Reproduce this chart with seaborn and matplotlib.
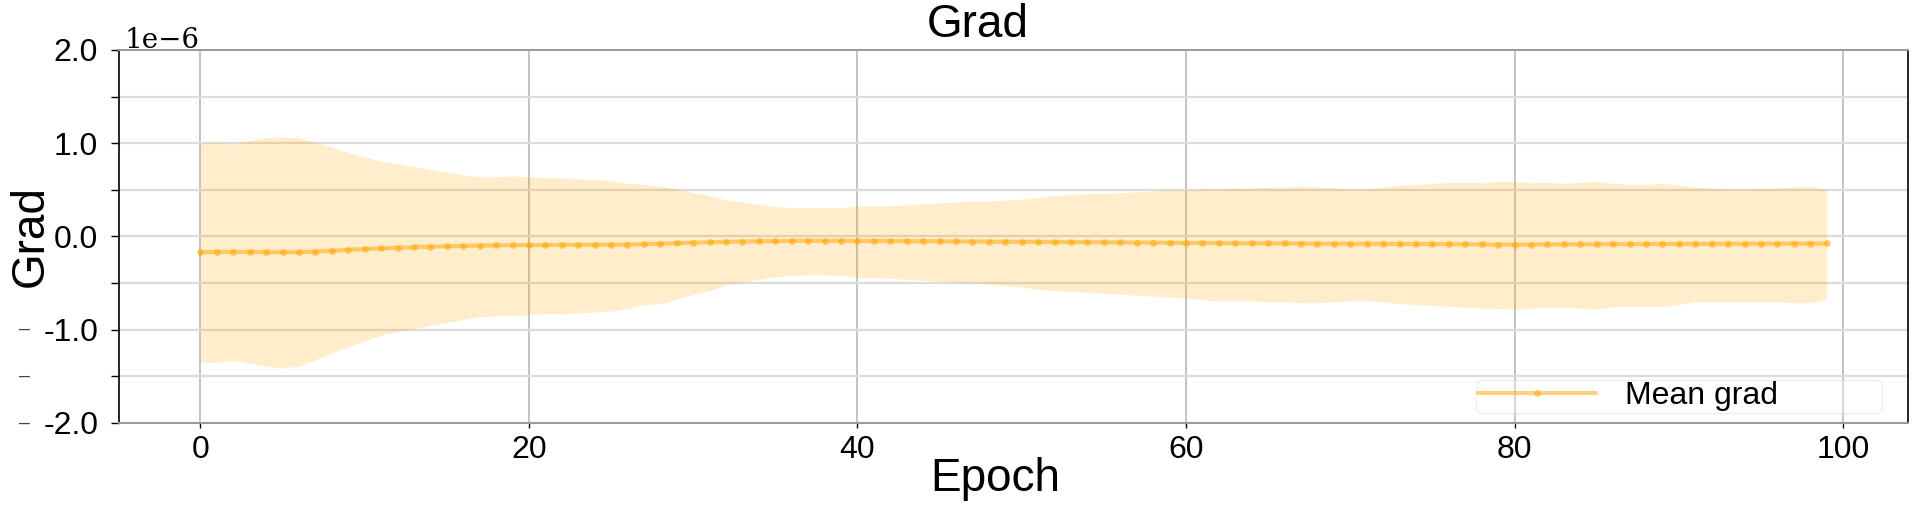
import matplotlib
matplotlib.use("Agg")
import matplotlib.pyplot as plt
import matplotlib.ticker as mticker
import numpy as np
import pandas as pd
import seaborn as sns

# Data (in units of 1e-6)
epochs = list(range(100))

mean_grad = [
    -0.170, -0.166, -0.165, -0.166, -0.168, -0.170, -0.169, -0.162, -0.153, -0.143,
    -0.134, -0.127, -0.121, -0.115, -0.110, -0.105, -0.101, -0.098, -0.095, -0.093,
    -0.092, -0.091, -0.090, -0.090, -0.089, -0.088, -0.086, -0.082, -0.077, -0.072,
    -0.067, -0.062, -0.058, -0.054, -0.051, -0.049, -0.047, -0.046, -0.046, -0.046,
    -0.047, -0.048, -0.049, -0.050, -0.051, -0.052, -0.053, -0.054, -0.055, -0.056,
    -0.057, -0.058, -0.059, -0.060, -0.061, -0.062, -0.064, -0.065, -0.066, -0.068,
    -0.069, -0.070, -0.071, -0.072, -0.073, -0.074, -0.075, -0.076, -0.077, -0.077,
    -0.078, -0.078, -0.079, -0.080, -0.080, -0.081, -0.082, -0.083, -0.085, -0.086,
    -0.087, -0.086, -0.085, -0.085, -0.084, -0.083, -0.082, -0.082, -0.081, -0.080,
    -0.080, -0.079, -0.079, -0.078, -0.078, -0.077, -0.077, -0.076, -0.076, -0.075,
]

upper_band = [
    1.00, 1.01, 0.99, 1.03, 1.06, 1.07, 1.06, 1.01, 0.96, 0.90,
    0.85, 0.81, 0.78, 0.75, 0.72, 0.69, 0.66, 0.64, 0.64, 0.65,
    0.64, 0.63, 0.63, 0.62, 0.61, 0.60, 0.57, 0.56, 0.54, 0.51,
    0.47, 0.44, 0.39, 0.37, 0.34, 0.32, 0.31, 0.31, 0.31, 0.31,
    0.33, 0.33, 0.33, 0.34, 0.35, 0.36, 0.37, 0.38, 0.38, 0.39,
    0.40, 0.42, 0.44, 0.45, 0.46, 0.46, 0.47, 0.48, 0.49, 0.50,
    0.50, 0.51, 0.51, 0.52, 0.52, 0.53, 0.53, 0.54, 0.53, 0.52,
    0.51, 0.51, 0.53, 0.55, 0.56, 0.57, 0.58, 0.58, 0.58, 0.59,
    0.59, 0.58, 0.58, 0.57, 0.58, 0.59, 0.57, 0.56, 0.56, 0.57,
    0.55, 0.53, 0.52, 0.51, 0.51, 0.52, 0.52, 0.53, 0.54, 0.50,
]

lower_band = [
    -1.35, -1.35, -1.33, -1.36, -1.39, -1.41, -1.39, -1.32, -1.25, -1.18,
    -1.12, -1.06, -1.02, -0.99, -0.95, -0.92, -0.89, -0.86, -0.85, -0.85,
    -0.84, -0.83, -0.83, -0.82, -0.81, -0.80, -0.77, -0.73, -0.72, -0.67,
    -0.62, -0.58, -0.52, -0.49, -0.46, -0.43, -0.42, -0.41, -0.41, -0.42,
    -0.44, -0.44, -0.45, -0.46, -0.47, -0.48, -0.49, -0.50, -0.51, -0.53,
    -0.54, -0.57, -0.58, -0.59, -0.60, -0.61, -0.62, -0.63, -0.64, -0.65,
    -0.66, -0.68, -0.69, -0.69, -0.69, -0.70, -0.70, -0.71, -0.71, -0.70,
    -0.69, -0.69, -0.70, -0.72, -0.73, -0.74, -0.75, -0.76, -0.77, -0.77,
    -0.78, -0.77, -0.76, -0.76, -0.77, -0.78, -0.75, -0.75, -0.75, -0.75,
    -0.73, -0.70, -0.70, -0.70, -0.70, -0.70, -0.70, -0.71, -0.71, -0.67,
]

y_ticks = [-2.0, -1.0, 0.0, 1.0, 2.0]
x_ticks = [0, 20, 40, 60, 80, 100]
scale = 1e-6

df = pd.DataFrame({
    "epoch": epochs,
    "mean": np.array(mean_grad) * scale,
    "upper": np.array(upper_band) * scale,
    "lower": np.array(lower_band) * scale,
})

sns.set_style("whitegrid")
plt.rcParams["font.family"] = ["Liberation Sans", "DejaVu Sans"]
plt.rcParams.update({"text.color": "black", "axes.labelcolor": "black",
                     "xtick.color": "black", "ytick.color": "black"})

fig, ax = plt.subplots(figsize=(19.14, 5.18), dpi=100)
fig.subplots_adjust(left=0.0622, right=0.9969, bottom=0.1834, top=0.9035)

ax.fill_between(df["epoch"], df["lower"], df["upper"], color="orange", alpha=0.2, linewidth=0)
sns.lineplot(data=df, x="epoch", y="mean", ax=ax, color="orange", alpha=0.5,
             linewidth=3.0, marker="o", markersize=5, markeredgewidth=0,
             label="Mean grad")

ax.set_ylim(-2 * scale, 2 * scale)
ax.set_xticks(x_ticks)
ax.set_yticks([v * scale for v in y_ticks])
ax.yaxis.set_minor_locator(mticker.MultipleLocator(0.5 * scale))
ax.yaxis.set_major_formatter(mticker.FuncFormatter(lambda v, p: f"{v / scale:.1f}"))

# grid
ax.grid(False)
ax.xaxis.grid(True, which="major", color="#b3b3b3", linewidth=1.1)
ax.yaxis.grid(True, which="both", color="#dcdcdc", linewidth=1.6)
ax.set_axisbelow(True)

ax.tick_params(axis="x", which="major", labelsize=23, length=3.5, width=1, pad=5, bottom=True)
ax.tick_params(axis="y", which="major", labelsize=23, length=6, width=1, pad=9, left=True)
ax.tick_params(axis="y", which="minor", length=6, width=1, left=True)

for side in ["left", "right"]:
    ax.spines[side].set_color("black")
    ax.spines[side].set_linewidth(1.2)
for side in ["top", "bottom"]:
    ax.spines[side].set_color("#9a9a9a")
    ax.spines[side].set_linewidth(1.4)

ax.set_title("Grad", fontsize=33, x=0.48, pad=9)
ax.set_xlabel("Epoch", fontsize=33)
ax.set_ylabel("Grad", fontsize=33)
ax.xaxis.set_label_coords(0.49, -0.09)
ax.yaxis.set_label_coords(-0.037, 0.5)

# offset text drawn by hand in a serif face
ax.text(0.003, 1.004, "1e\u22126", transform=ax.transAxes, family="DejaVu Serif",
        fontsize=20, ha="left", va="baseline")

# stray dashes at the far left, next to negative ticks
for v in [-0.5, -1.0, -1.5, -2.0]:
    ax.text(-0.053, v * scale, "\u2013", transform=ax.get_yaxis_transform(),
            fontsize=14, color="#444444", ha="center", va="center")

leg = ax.legend(loc="lower left", mode="expand", fontsize=23, handlelength=3.7,
                handletextpad=0.9, borderpad=0.05, borderaxespad=0.0,
                bbox_to_anchor=(0.7585, 0.027, 0.227, 0.088),
                frameon=True, framealpha=0.35, edgecolor="#cccccc", fancybox=True)

fig.savefig("out.png", dpi=100)
